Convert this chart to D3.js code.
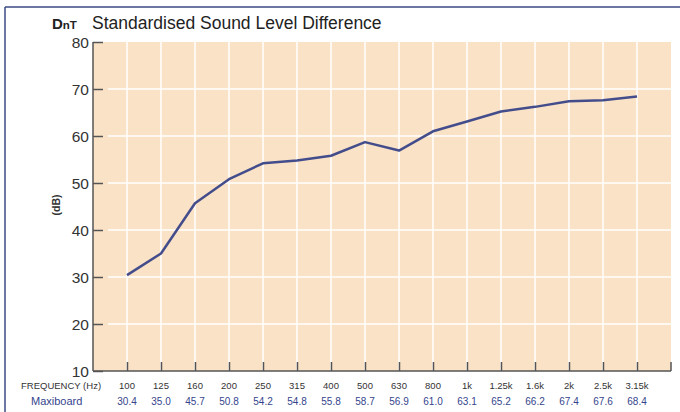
<!DOCTYPE html>
<html>
<head>
<meta charset="utf-8">
<script src="https://cdn.jsdelivr.net/npm/d3@7"></script>
<style>
  body { margin: 0; background: #fff; }
  svg { display: block; font-family: "Liberation Sans", Arial, sans-serif; }
</style>
</head>
<body>
<div id="chart"></div>
<script>
const svgWidth = 680;
const svgHeight = 412;

// data
const frequencies = ["100", "125", "160", "200", "250", "315", "400", "500",
  "630", "800", "1k", "1.25k", "1.6k", "2k", "2.5k", "3.15k"];
const maxiboard = [30.4, 35.0, 45.7, 50.8, 54.2, 54.8, 55.8, 58.7,
  56.9, 61.0, 63.1, 65.2, 66.2, 67.4, 67.6, 68.4];
const yTicks = [10, 20, 30, 40, 50, 60, 70, 80];

const plot = { left: 93, right: 671, top: 42, bottom: 371 };

const svg = d3.select("#chart")
  .append("svg")
  .attr("width", svgWidth)
  .attr("height", svgHeight);

// frame
svg.append("line")
  .attr("x1", 5).attr("x2", svgWidth).attr("y1", 7).attr("y2", 7)
  .attr("stroke", "#3b4a86").attr("stroke-width", 1.5);
svg.append("line")
  .attr("x1", 5).attr("x2", 5).attr("y1", 7).attr("y2", svgHeight)
  .attr("stroke", "#3b4a86").attr("stroke-width", 1.5);

const xScale = d3.scalePoint()
  .domain(frequencies)
  .range([plot.left, plot.right])
  .padding(1);

const yScale = d3.scaleLinear()
  .domain([10, 80])
  .range([plot.bottom, plot.top]);

// background
svg.append("rect")
  .attr("x", plot.left)
  .attr("y", plot.top)
  .attr("width", plot.right - plot.left)
  .attr("height", plot.bottom - plot.top)
  .attr("fill", "#fae2c6");

// grid
svg.append("g").selectAll("line")
  .data(frequencies)
  .enter()
  .append("line")
  .attr("x1", d => xScale(d)).attr("x2", d => xScale(d))
  .attr("y1", plot.top).attr("y2", plot.bottom)
  .attr("stroke", "#fff").attr("stroke-width", 1.5);

svg.append("g").selectAll("line")
  .data(yTicks.slice(1, -1))
  .enter()
  .append("line")
  .attr("x1", plot.left + 15).attr("x2", plot.right)
  .attr("y1", d => yScale(d)).attr("y2", d => yScale(d))
  .attr("stroke", "#fff").attr("stroke-width", 1.5);

// y axis
const leftAxis = d3.axisRight(yScale)
  .tickValues(yTicks)
  .tickSize(10)
  .tickFormat("");
const yAxis = svg.append("g")
  .attr("transform", `translate(${plot.left}, 0)`)
  .call(leftAxis);
yAxis.select(".domain").remove();
yAxis.selectAll("line").attr("stroke", "#555").attr("stroke-width", 1.5);
svg.append("line")
  .attr("x1", plot.left).attr("x2", plot.left)
  .attr("y1", plot.top).attr("y2", plot.bottom)
  .attr("stroke", "#555").attr("stroke-width", 1.5);

svg.append("g").selectAll("text")
  .data(yTicks)
  .enter()
  .append("text")
  .attr("x", plot.left - 4)
  .attr("y", d => yScale(d) + 5.5)
  .attr("text-anchor", "end")
  .attr("font-size", 15.5)
  .attr("fill", "#333")
  .text(d => d);

// x axis
const bottomAxis = d3.axisTop(xScale)
  .tickSize(9)
  .tickFormat("");
const xAxis = svg.append("g")
  .attr("transform", `translate(0, ${plot.bottom})`)
  .call(bottomAxis);
xAxis.select(".domain").remove();
xAxis.selectAll("line").attr("stroke", "#555").attr("stroke-width", 1.5);
svg.append("line")
  .attr("x1", plot.left).attr("x2", plot.right)
  .attr("y1", plot.bottom).attr("y2", plot.bottom)
  .attr("stroke", "#555").attr("stroke-width", 1.5);
svg.append("line")
  .attr("x1", plot.right).attr("x2", plot.right)
  .attr("y1", plot.bottom - 9).attr("y2", plot.bottom)
  .attr("stroke", "#555").attr("stroke-width", 1.5);

// line
const line = d3.line()
  .x((d, i) => xScale(frequencies[i]))
  .y(d => yScale(d));

svg.append("path")
  .datum(maxiboard)
  .attr("d", line)
  .attr("fill", "none")
  .attr("stroke", "#434d8c")
  .attr("stroke-width", 2.5)
  .attr("stroke-linejoin", "round");

// title
const title = svg.append("text")
  .attr("x", 52)
  .attr("y", 29)
  .attr("fill", "#222");
title.append("tspan")
  .attr("font-weight", "bold")
  .attr("font-size", 15)
  .text("D");
title.append("tspan")
  .attr("font-weight", "bold")
  .attr("font-size", 11.5)
  .text("nT");
title.append("tspan")
  .attr("x", 92)
  .attr("font-size", 17.5)
  .text("Standardised Sound Level Difference");

// y label
svg.append("text")
  .attr("transform", "rotate(-90)")
  .attr("x", -205)
  .attr("y", 60)
  .attr("text-anchor", "middle")
  .attr("font-weight", "bold")
  .attr("font-size", 10.5)
  .attr("fill", "#333")
  .text("(dB)");

// table rows
svg.append("text")
  .attr("x", 21)
  .attr("y", 389)
  .attr("font-size", 9.5)
  .attr("fill", "#333")
  .text("FREQUENCY (Hz)");

svg.append("g").selectAll("text")
  .data(frequencies)
  .enter()
  .append("text")
  .attr("x", d => xScale(d))
  .attr("y", 389)
  .attr("text-anchor", "middle")
  .attr("font-size", 9.5)
  .attr("fill", "#333")
  .text(d => d);

svg.append("text")
  .attr("x", 31)
  .attr("y", 405)
  .attr("font-size", 11)
  .attr("fill", "#34458c")
  .text("Maxiboard");

svg.append("g").selectAll("text")
  .data(maxiboard)
  .enter()
  .append("text")
  .attr("x", (d, i) => xScale(frequencies[i]))
  .attr("y", 405)
  .attr("text-anchor", "middle")
  .attr("font-size", 10)
  .attr("fill", "#34458c")
  .text(d => d.toFixed(1));
</script>
</body>
</html>
